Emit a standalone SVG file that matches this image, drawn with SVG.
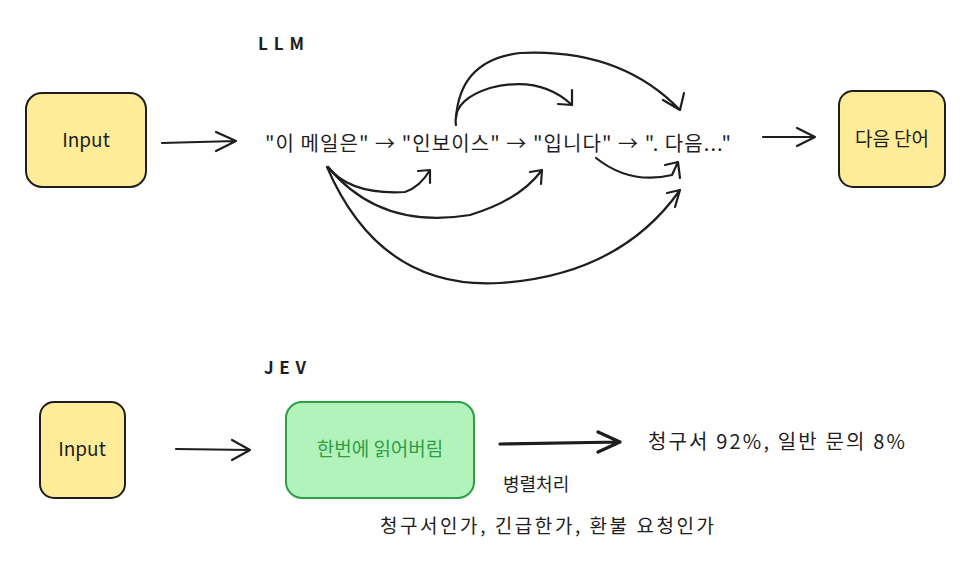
<svg xmlns="http://www.w3.org/2000/svg" width="972" height="564" viewBox="0 0 972 564">
<style>
.t{font-family:"Noto Sans CJK KR","Noto Sans",sans-serif;fill:#1e1e1e}
.y{fill:#ffec99;stroke:#1e1e1e;stroke-width:2}
.c{fill:none;stroke:#1e1e1e;stroke-width:2.2;stroke-linecap:round;stroke-linejoin:round}
</style>
<rect width="972" height="564" fill="#fff"/>
<text class="t" x="258" y="50" font-size="17" font-weight="bold" textLength="46">LLM</text>
<text class="t" x="264" y="374" font-size="17" font-weight="bold" textLength="42">JEV</text>
<g id="input1"><rect class="y" x="26" y="93" width="120" height="94" rx="16"/><text class="t" x="86" y="147" font-size="19" text-anchor="middle">Input</text></g>
<g id="seq"><text class="t" x="265" y="151" font-size="20" textLength="466" lengthAdjust="spacing">"이 메일은" → "인보이스" → "입니다" → ". 다음..."</text></g>
<g id="next"><rect class="y" x="839" y="91" width="106" height="96" rx="14"/><text class="t" x="892" y="146" font-size="19" text-anchor="middle">다음 단어</text></g>
<g id="input2"><rect class="y" x="40" y="402" width="85" height="96" rx="14"/><text class="t" x="82" y="456" font-size="19" text-anchor="middle">Input</text></g>
<g id="read"><rect x="286" y="402" width="188" height="96" rx="16" fill="#b2f2bb" stroke="#2f9e44" stroke-width="2"/><text x="380" y="456" font-size="19" text-anchor="middle" class="t" style="fill:#2f9e44">한번에 읽어버림</text></g>
<g id="result"><text class="t" x="648" y="449" font-size="20" textLength="257" lengthAdjust="spacing">청구서 92%, 일반 문의 8%</text></g>
<text class="t" x="503" y="491" font-size="18">병렬처리</text>
<text class="t" x="380" y="533" font-size="19" textLength="334" lengthAdjust="spacing">청구서인가, 긴급한가, 환불 요청인가</text>
<g id="connectors" class="c">
<path d="M162 143 L236 141 M216 132 L236 141 L216 151"/>
<path d="M763 137 L815 137 M797 128 L815 137 L797 146"/>
<path d="M176 449 L250 450 M232 440 L250 450 L232 460"/>
<path d="M500 444 L620 442 M598 432 L620 442 L598 452" stroke-width="3.2"/>
<path d="M328 167 Q350 195 405 192 Q420 187 430 170 M418 171 L430 170 L430 183"/>
<path d="M328 167 Q380 230 470 215 Q520 200 542 170 M530 172 L542 170 L541 184"/>
<path d="M327 167 Q380 290 500 283 Q620 275 680 190 M667 193 L680 190 L675 207"/>
<path d="M596 158 Q630 185 672 175 L678 162 M665 165 L678 162 L680 178"/>
<path d="M456 125 Q452 100 490 88 Q540 75 572 105 M572 90 L572 105 L558 104"/>
<path d="M456 118 Q460 60 520 53 Q620 48 680 110 M684 93 L680 110 L663 100"/>
</g>
</svg>
